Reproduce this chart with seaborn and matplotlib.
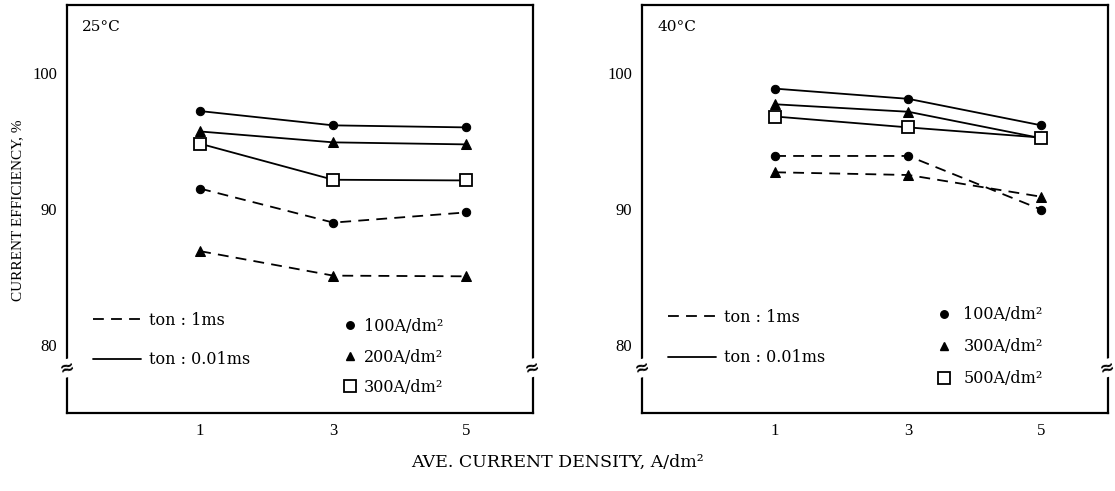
import matplotlib
matplotlib.use("Agg")
import matplotlib.pyplot as plt
from matplotlib.lines import Line2D
import seaborn as sns
import pandas as pd

sns.set_theme(style="white")
plt.rcParams['font.family'] = ['Liberation Serif', 'DejaVu Serif']
plt.rcParams['text.color'] = 'black'
plt.rcParams['axes.labelcolor'] = 'black'
plt.rcParams['xtick.color'] = 'black'
plt.rcParams['ytick.color'] = 'black'
WIDE = ['DejaVu Serif']

density = [1, 3, 5]
yticks = [80, 90, 100]
xticks = [1, 3, 5]

# 25 C panel
l_solid_100 = [97.2, 96.15, 96.0]
l_solid_200 = [95.7, 94.9, 94.75]
l_solid_300 = [94.8, 92.15, 92.1]
l_dash_100 = [91.5, 89.0, 89.75]
l_dash_200 = [86.9, 85.1, 85.05]

# 40 C panel
r_solid_100 = [98.85, 98.1, 96.15]
r_solid_300 = [97.7, 97.15, 95.2]
r_solid_500 = [96.8, 96.0, 95.25]
r_dash_100 = [93.9, 93.9, 89.95]
r_dash_300 = [92.7, 92.5, 90.9]

left_series = [
    (l_solid_100, 'o', '-'), (l_solid_200, '^', '-'), (l_solid_300, 's', '-'),
    (l_dash_100, 'o', '--'), (l_dash_200, '^', '--'),
]
right_series = [
    (r_solid_100, 'o', '-'), (r_solid_300, '^', '-'), (r_solid_500, 's', '-'),
    (r_dash_100, 'o', '--'), (r_dash_300, '^', '--'),
]
left_labels = ['100A/dm²', '200A/dm²', '300A/dm²']
right_labels = ['100A/dm²', '300A/dm²', '500A/dm²']

fig = plt.figure(figsize=(11.15, 4.91), dpi=100)
axL = fig.add_axes([67/1115, 1-413/491, (533-67)/1115, (413-5)/491])
axR = fig.add_axes([642/1115, 1-413/491, (1108-642)/1115, (413-5)/491])

FS = 11
TFS = 12
LFS = 11.5

def marker_kw(m):
    if m == 's':
        return dict(marker='s', markersize=9, markerfacecolor='white', markeredgecolor='black', markeredgewidth=1.3)
    if m == '^':
        return dict(marker='^', markersize=7, markerfacecolor='black', markeredgecolor='black')
    return dict(marker='o', markersize=6, markerfacecolor='black', markeredgecolor='black')

def draw(ax, series, labels, temp, line_leg_pos, mark_leg_pos, mark_spacing, line_spacing, mark_pad):
    for vals, m, ls in series:
        df = pd.DataFrame({'x': density, 'y': vals})
        sns.lineplot(data=df, x='x', y='y', ax=ax, color='black', linewidth=1.3,
                     linestyle=ls, **marker_kw(m))
        if ls == '--':
            ax.lines[-1].set_dashes([6, 4])
    ax.set_xlim(-1, 6)
    ax.set_ylim(75, 105)
    ax.set_xticks(xticks)
    ax.set_xticklabels([str(t) for t in xticks], fontsize=TFS)
    ax.set_yticks(yticks)
    ax.set_yticklabels([str(t) for t in yticks], fontsize=TFS)
    ax.set_xlabel('')
    ax.set_ylabel('')
    ax.tick_params(axis='x', direction='in', length=6, width=1.2, pad=7, colors='black')
    ax.tick_params(axis='y', direction='inout', length=8, width=1.2, pad=3, colors='black')
    for s in ax.spines.values():
        s.set_visible(True)
        s.set_color('black')
        s.set_linewidth(1.6)
    ax.text(0.033, 0.945, temp, transform=ax.transAxes, fontsize=FS, family=WIDE,
            ha='left', va='center')

    # axis break marks
    for xa in (0, 0.997):
        ax.text(xa, 78.3, '≈', transform=ax.get_yaxis_transform(), fontsize=13,
                fontweight='bold', rotation=15, ha='center', va='center', color='black',
                family=WIDE, bbox=dict(facecolor='white', edgecolor='none', pad=0.0))

    line_handles = [Line2D([], [], color='black', lw=1.3, linestyle=(0, (6, 4))),
                    Line2D([], [], color='black', lw=1.3)]
    leg1 = ax.legend(line_handles, ['ton : 1ms', 'ton : 0.01ms'], loc='upper left',
                     bbox_to_anchor=line_leg_pos, frameon=False,
                     prop={'family': WIDE, 'size': LFS},
                     handlelength=3.0, handletextpad=0.5, labelspacing=line_spacing,
                     borderpad=0, borderaxespad=0)
    ax.add_artist(leg1)
    mk = [Line2D([], [], linestyle='none', **marker_kw(m)) for m in ['o', '^', 's']]
    for h in mk:
        h.set_markersize(h.get_markersize() * 0.9)
    ax.legend(mk, labels, loc='upper left', bbox_to_anchor=mark_leg_pos, frameon=False,
              prop={'family': WIDE, 'size': LFS},
              handlelength=0.8, handletextpad=mark_pad, labelspacing=mark_spacing,
              borderpad=0, borderaxespad=0)

draw(axL, left_series, left_labels, '25°C', (0.055, 0.248), (0.593, 0.233), 0.85, 1.4, 0.5)
draw(axR, right_series, right_labels, '40°C', (0.055, 0.255), (0.635, 0.262), 0.95, 1.45, 0.8)

fig.text(18/1115, 1-210/491, 'CURRENT EFFICIENCY, %', rotation=90, ha='center',
         va='center', fontsize=FS)
fig.text(557/1115, 1-462/491, 'AVE. CURRENT DENSITY, A/dm²', ha='center', va='center',
         fontsize=12.5, family=WIDE)

fig.savefig('out.png', dpi=100, facecolor='white')
